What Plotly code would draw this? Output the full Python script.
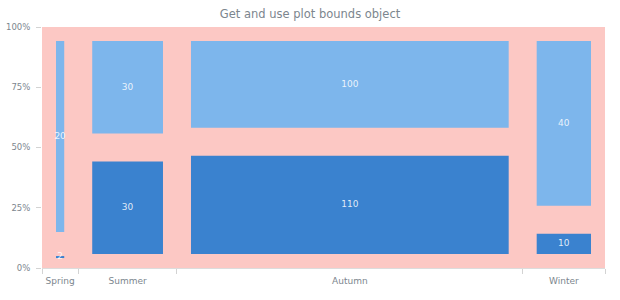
import plotly.graph_objects as go

categories = ["Spring", "Summer", "Autumn", "Winter"]
series_dark = [2, 30, 110, 10]
series_light = [20, 30, 100, 40]
y_tick_vals = [0, 25, 50, 75, 100]
y_tick_text = ["0%", "25%", "50%", "75%", "100%"]
title_text = "Get and use plot bounds object"

W, H = 620, 300
ML, MR, MT, MB = 42, 15, 27, 32
PW = W - ML - MR
PH = H - MT - MB
PAD = 14  # point padding in pixels

COL_DARK = "#3a82cf"
COL_LIGHT = "#7db6ec"
PINK = "#fcc8c4"
FONT = "DejaVu Sans"
GREY = "#7c868e"

totals = [a + b for a, b in zip(series_dark, series_light)]
grand = sum(totals)
ux = grand / PW       # data units per px on x
uy = 100.0 / PH       # data units per px on y

bounds = [0]
for t in totals:
    bounds.append(bounds[-1] + t)
centers = [(bounds[i] + bounds[i + 1]) / 2 for i in range(len(totals))]
col_w = [t - 2 * PAD * ux for t in totals]

fig = go.Figure()

txt_x, txt_y, txt_s = [], [], []
for series, color in ((series_dark, COL_DARK), (series_light, COL_LIGHT)):
    bases, heights = [], []
    for j, v in enumerate(series):
        prev = 0 if series is series_dark else series_dark[j]
        seg0 = 100.0 * prev / totals[j]
        segh = 100.0 * v / totals[j]
        h = segh - 2 * PAD * uy
        if h < 2 * uy:
            h = 2 * uy
            b = seg0 + segh / 2 - h / 2
        else:
            b = seg0 + PAD * uy
        bases.append(b)
        heights.append(h)
        txt_x.append(centers[j])
        txt_y.append(seg0 + segh / 2)
        txt_s.append(str(v))
    fig.add_trace(go.Bar(
        x=centers, y=heights, base=bases, width=col_w,
        marker=dict(color=color, line=dict(width=0)),
        hoverinfo="skip", showlegend=False,
    ))

fig.add_trace(go.Scatter(
    x=txt_x, y=txt_y, text=txt_s, mode="text",
    textfont=dict(family=FONT, size=9, color="rgba(255,255,255,0.85)"),
    hoverinfo="skip", showlegend=False,
))

fig.update_layout(
    width=W, height=H,
    margin=dict(l=ML, r=MR, t=MT, b=MB, autoexpand=False),
    paper_bgcolor="white",
    plot_bgcolor=PINK,
    barmode="overlay",
    title=dict(text=title_text, x=0.5, xanchor="center", y=1 - 14 / H, yanchor="middle",
               font=dict(family=FONT, size=11.5, color=GREY)),
    xaxis=dict(range=[0, grand], tickmode="array", tickvals=bounds, showticklabels=False,
               ticks="outside", ticklen=5, tickcolor="#d3d3d3", showgrid=False,
               zeroline=False, showline=True, linecolor="#dcdcdc", automargin=False),
    xaxis2=dict(range=[0, grand], overlaying="x", anchor="y", side="bottom",
                tickmode="array", tickvals=centers, ticktext=categories,
                ticks="outside", ticklen=4, tickcolor="rgba(0,0,0,0)",
                showgrid=False, zeroline=False, showline=False, automargin=False,
                tickfont=dict(family=FONT, size=9, color=GREY)),
    yaxis=dict(range=[0, 100], tickmode="array", tickvals=y_tick_vals, ticktext=y_tick_text,
               ticks="outside", ticklen=5, tickcolor="#d3d3d3", showgrid=False,
               zeroline=False, showline=False, ticklabelstandoff=4, automargin=False,
               tickfont=dict(family=FONT, size=8.5, color=GREY)),
)
fig.add_trace(go.Scatter(x=[None], y=[None], xaxis="x2", showlegend=False, hoverinfo="skip"))

fig.write_html("out.html")
